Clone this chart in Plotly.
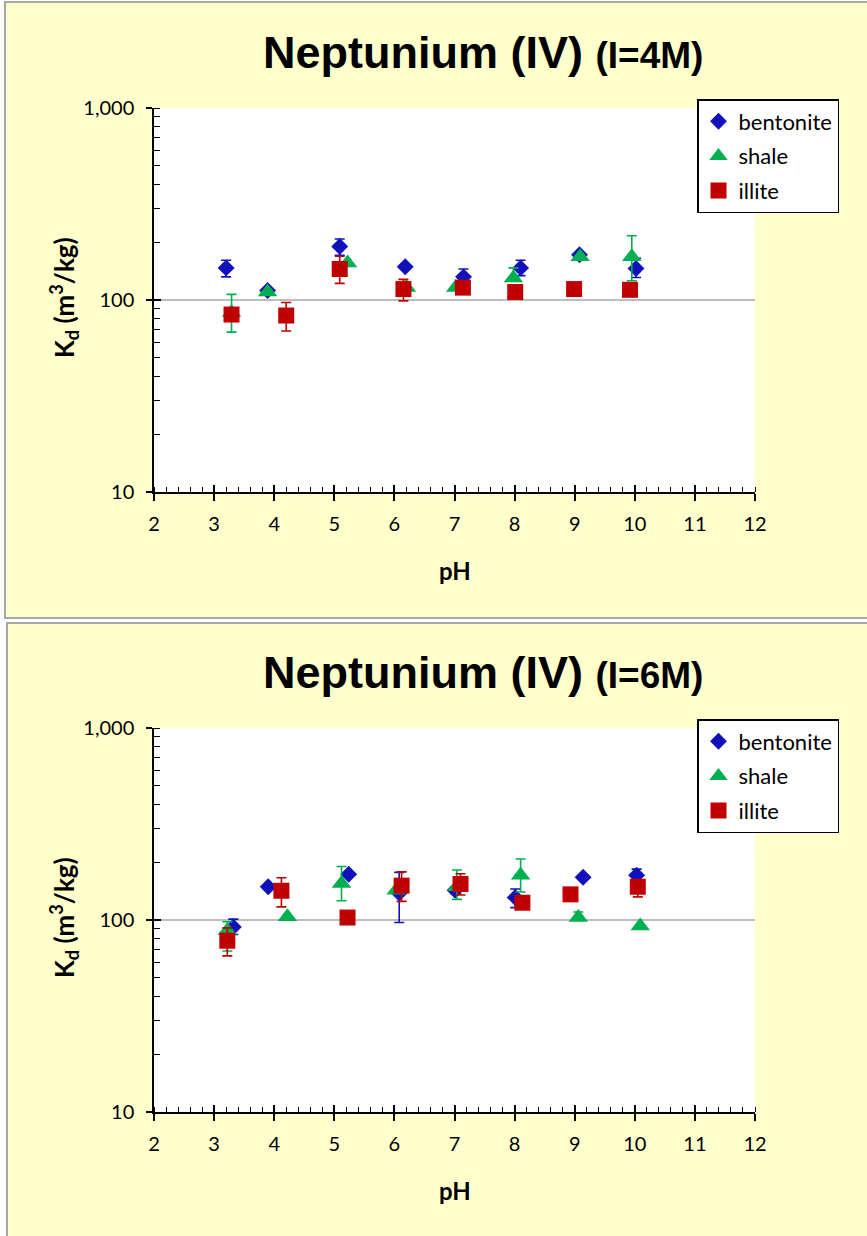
import plotly.graph_objects as go

# ---------------- data ----------------
# Neptunium (IV), I = 4M
ph4_bentonite = [3.20, 3.89, 5.09, 6.18, 7.15, 8.10, 9.08, 10.02]
kd4_bentonite = [147, 112, 190, 149, 132, 147, 172, 146]
ep4_bentonite = [14, 0, 18, 0, 13, 14, 0, 19]
em4_bentonite = [15, 0, 19, 0, 10, 13, 0, 15]

ph4_shale = [3.29, 3.89, 5.22, 6.20, 7.02, 7.98, 9.09, 9.95]
kd4_shale = [86, 110, 156, 116, 116, 130, 168, 168]
ep4_shale = [21, 0, 0, 0, 0, 17, 0, 48]
em4_shale = [18, 0, 0, 0, 0, 0, 0, 42]

ph4_illite = [3.29, 4.20, 5.09, 6.15, 7.14, 8.01, 8.99, 9.92]
kd4_illite = [84, 83, 145, 114, 116, 110, 114, 113]
ep4_illite = [0, 14, 24, 14, 0, 0, 0, 0]
em4_illite = [0, 14, 23, 15, 0, 0, 0, 0]

# Neptunium (IV), I = 6M
ph6_bentonite = [3.32, 3.90, 5.24, 6.08, 7.01, 8.01, 9.14, 10.03]
kd6_bentonite = [92, 149, 173, 138, 143, 131, 167, 171]
ep6_bentonite = [9, 0, 0, 39, 6, 14, 0, 13]
em6_bentonite = [8, 0, 0, 41, 6, 15, 0, 0]

ph6_shale = [3.22, 4.22, 5.12, 6.03, 7.04, 8.10, 9.06, 10.09]
kd6_shale = [88, 104, 155, 143, 149, 171, 103, 93]
ep6_shale = [10, 0, 35, 0, 33, 37, 7, 0]
em6_shale = [19, 0, 29, 0, 21, 31, 0, 0]

ph6_illite = [3.22, 4.12, 5.22, 6.12, 7.10, 8.13, 8.93, 10.05]
kd6_illite = [78, 142, 103, 151, 154, 123, 136, 149]
ep6_illite = [13, 24, 0, 27, 20, 0, 0, 12]
em6_illite = [13, 25, 0, 26, 19, 0, 0, 17]

x_ticks = [2, 3, 4, 5, 6, 7, 8, 9, 10, 11, 12]
y_ticks = [10, 100, 1000]
y_ticktext = ["10", "100", "1,000"]

titles = ["Neptunium (IV)", "Neptunium (IV)"]
subtitles = ["(I=4M)", "(I=6M)"]

# ---------------- styling ----------------
W, H = 867, 1236
BLUE, GREEN, RED = "#1111BB", "#00B050", "#C00000"
PANEL = "#FFFFCC"
TICK_FONT = "Lato"
TITLE_FONT = "Liberation Sans"


def fx(px):
    return px / W


def fy(py):
    return 1 - py / H


X_DOM = [fx(154), fx(755)]
PANELS = [
    dict(top=108, bottom=492, frame=(5, 2, 872, 618), title_y=52, legend_y=99,
         ylab_y=298, xlab_y=570),
    dict(top=728, bottom=1112, frame=(7, 623, 872, 1242), title_y=672, legend_y=719,
         ylab_y=918, xlab_y=1190),
]

series = [
    [("bentonite", ph4_bentonite, kd4_bentonite, ep4_bentonite, em4_bentonite, "diamond", 13, BLUE),
     ("shale", ph4_shale, kd4_shale, ep4_shale, em4_shale, "triangle-up", 17, GREEN),
     ("illite", ph4_illite, kd4_illite, ep4_illite, em4_illite, "square", 16, RED)],
    [("bentonite", ph6_bentonite, kd6_bentonite, ep6_bentonite, em6_bentonite, "diamond", 13, BLUE),
     ("shale", ph6_shale, kd6_shale, ep6_shale, em6_shale, "triangle-up", 17, GREEN),
     ("illite", ph6_illite, kd6_illite, ep6_illite, em6_illite, "square", 16, RED)],
]

fig = go.Figure()
shapes = []
annotations = []

for i, (panel, group) in enumerate(zip(PANELS, series)):
    n = i + 1
    xa, ya = f"x{'' if n == 1 else n}", f"y{'' if n == 1 else n}"
    legend_name = "legend" if n == 1 else f"legend{n}"

    for name, px_, kd, ep, em, sym, size, col in group:
        fig.add_trace(go.Scatter(
            x=px_, y=kd, mode="markers", name=name,
            xaxis=xa, yaxis=ya, legend=legend_name, legendgroup=f"{name}{n}",
            marker=dict(symbol=sym, size=size, color=col, line=dict(width=0)),
            error_y=dict(type="data", symmetric=False, array=ep, arrayminus=em,
                         color=col, thickness=1.6, width=5),
        ))

    # overlay axes carrying the inner half of the major ticks
    ox, oy = 2 + n, 2 + n
    fig.add_trace(go.Scatter(x=[], y=[], xaxis=f"x{ox}", yaxis=ya, showlegend=False))
    fig.add_trace(go.Scatter(x=[], y=[], xaxis=xa, yaxis=f"y{oy}", showlegend=False))

    y_dom = [fy(panel["bottom"]), fy(panel["top"])]
    axis_x = dict(
        domain=X_DOM, range=[2, 12], tickmode="array", tickvals=x_ticks,
        ticks="outside", ticklen=7, tickwidth=1.5, tickcolor="black",
        showline=True, linecolor="black", linewidth=1.5, showgrid=False, zeroline=False,
        tickfont=dict(family=TICK_FONT, size=20, color="black"), ticklabelstandoff=6,
        minor=dict(ticks="inside", ticklen=5, tickwidth=1.2, tickcolor="black",
                   dtick=0.2, tick0=2, showgrid=False),
        anchor=ya, automargin=False,
    )
    axis_y = dict(
        domain=y_dom, type="log", range=[1, 3], tickmode="array",
        tickvals=y_ticks, ticktext=y_ticktext,
        ticks="outside", ticklen=6, tickwidth=1.5, tickcolor="black",
        showline=True, linecolor="black", linewidth=1.5,
        showgrid=True, gridcolor="#BDBDBD", gridwidth=2, zeroline=False,
        tickfont=dict(family=TICK_FONT, size=20, color="black"), ticklabelstandoff=8,
        minor=dict(ticks="inside", ticklen=6, tickwidth=1.2, tickcolor="black",
                   dtick="D1", showgrid=False),
        anchor=xa, automargin=False,
    )
    over_x = dict(
        domain=X_DOM, range=[2, 12], tickmode="array", tickvals=x_ticks,
        ticks="inside", ticklen=7, tickwidth=1.5, tickcolor="black",
        showticklabels=False, showline=False, showgrid=False, zeroline=False,
        overlaying=xa, anchor=ya, side="bottom", automargin=False,
    )
    over_y = dict(
        domain=y_dom, type="log", range=[1, 3], tickmode="array", tickvals=y_ticks,
        ticks="inside", ticklen=7, tickwidth=1.5, tickcolor="black",
        showticklabels=False, showline=False, showgrid=False, zeroline=False,
        overlaying=ya, anchor=xa, side="left", automargin=False,
    )
    fig.layout[f"xaxis{'' if n == 1 else n}"] = axis_x
    fig.layout[f"yaxis{'' if n == 1 else n}"] = axis_y
    fig.layout[f"xaxis{ox}"] = over_x
    fig.layout[f"yaxis{oy}"] = over_y

    fig.layout[legend_name] = dict(
        x=fx(697), y=fy(panel["legend_y"]), xanchor="left", yanchor="top",
        bgcolor="white", bordercolor="black", borderwidth=1.5,
        font=dict(family=TICK_FONT, size=22, color="black"),
        tracegroupgap=3, itemwidth=30,
    )

    # panel background and white plotting area
    x0, y0, x1, y1 = panel["frame"]
    shapes.append(dict(type="rect", xref="paper", yref="paper",
                       x0=fx(x0), x1=fx(x1), y0=fy(y1), y1=fy(y0),
                       fillcolor=PANEL, line=dict(color="#A6A6A6", width=2), layer="below"))
    shapes.append(dict(type="rect", xref="paper", yref="paper",
                       x0=X_DOM[0], x1=X_DOM[1], y0=y_dom[0], y1=y_dom[1],
                       fillcolor="white", line=dict(width=0), layer="below"))

    annotations.append(dict(
        xref="paper", yref="paper", x=fx(483), y=fy(panel["title_y"]),
        xanchor="center", yanchor="middle", showarrow=False,
        text=f"<b>{titles[i]}</b> <b><span style='font-size:37px'>{subtitles[i]}</span></b>",
        font=dict(family=TITLE_FONT, size=45, color="black"),
    ))
    annotations.append(dict(
        xref="paper", yref="paper", x=fx(64), y=fy(panel["ylab_y"]),
        xanchor="center", yanchor="middle", showarrow=False, textangle=-90,
        text="<b>K<sub>d</sub> (m<sup>3</sup>/kg)</b>",
        font=dict(family=TICK_FONT, size=26, color="black"),
    ))
    annotations.append(dict(
        xref="paper", yref="paper", x=fx(455), y=fy(panel["xlab_y"]),
        xanchor="center", yanchor="middle", showarrow=False,
        text="<b>pH</b>",
        font=dict(family=TICK_FONT, size=24, color="black"),
    ))

fig.update_layout(
    width=W, height=H, margin=dict(l=0, r=0, t=0, b=0, autoexpand=False),
    paper_bgcolor="white", plot_bgcolor="rgba(0,0,0,0)",
    shapes=shapes, annotations=annotations,
    showlegend=True,
)

fig.write_html("out.html")
